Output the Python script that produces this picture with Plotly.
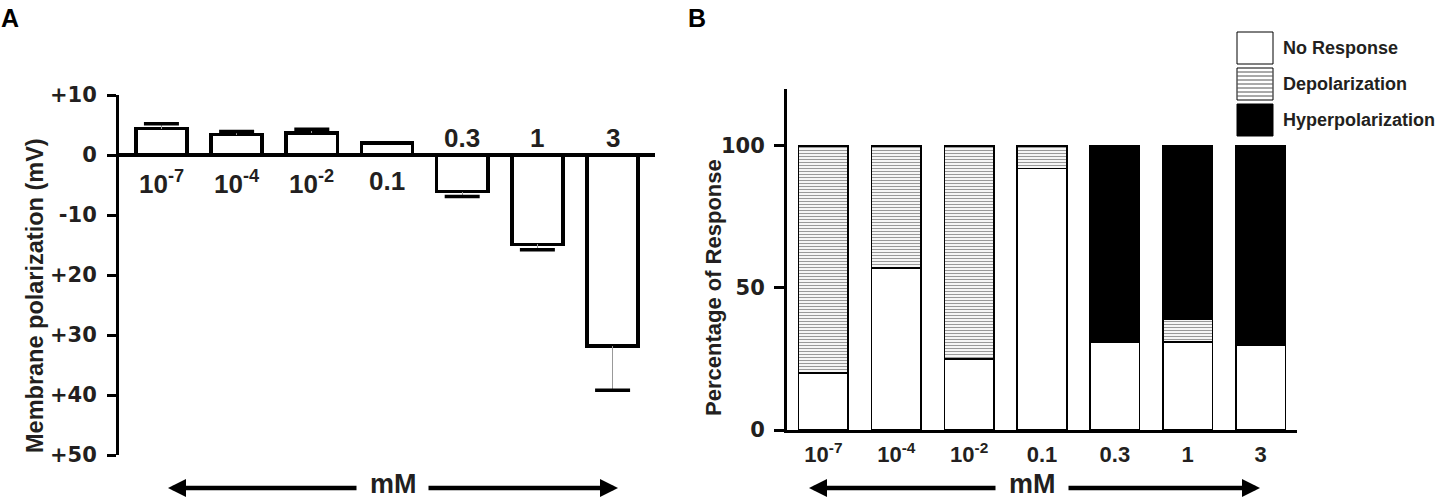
import plotly.graph_objects as go

# ---------------- data ----------------
categories = ["1e-7", "1e-4", "1e-2", "0.1", "0.3", "1", "3"]
conc_labels = ["10<sup>-7</sup>", "10<sup>-4</sup>", "10<sup>-2</sup>", "0.1", "0.3", "1", "3"]

# Panel A: membrane polarization (mV), mean and error
polarization_mean = [4.4, 3.4, 3.7, 2.0, -6.1, -14.9, -31.8]
polarization_err = [0.8, 0.5, 0.6, 0.0, 0.8, 0.9, 7.4]
a_tick_vals = [10, 0, -10, -20, -30, -40, -50]
a_tick_text = ["+10", "0", "-10", "+20", "+30", "+40", "+50"]

# Panel B: percentage of response
no_response = [20, 57, 25, 92, 31, 31, 30]
depolarization = [80, 43, 75, 8, 0, 8, 0]
hyperpolarization = [0, 0, 0, 0, 69, 61, 70]
b_tick_vals = [0, 50, 100]
legend_names = ["No Response", "Depolarization", "Hyperpolarization"]

# ---------------- layout helpers ----------------
W, H = 1442, 497
def px(x):
    return x / W
def py(y):
    return 1 - y / H

SANS = "Arial, Liberation Sans, sans-serif"
WIDE = "DejaVu Sans, sans-serif"
INK = "#231f20"

fig = go.Figure()

# ---------------- Panel A ----------------
err_plus = [e if m > 0 else 0 for m, e in zip(polarization_mean, polarization_err)]
err_minus = [e if m < 0 else 0 for m, e in zip(polarization_mean, polarization_err)]
fig.add_trace(go.Bar(
    x=categories, y=polarization_mean, xaxis="x", yaxis="y",
    marker=dict(color="white", line=dict(color="black", width=3.5)),
    error_y=dict(type="data", symmetric=False, array=err_plus, arrayminus=err_minus,
                 color="#999999", thickness=1, width=0),
    showlegend=False, hoverinfo="skip",
))
cap_y = [m + e if m > 0 else m - e for m, e in zip(polarization_mean, polarization_err)]
fig.add_trace(go.Scatter(
    x=categories, y=cap_y, xaxis="x", yaxis="y", mode="markers",
    marker=dict(symbol="line-ew", size=25, line=dict(color="black", width=3.5)),
    showlegend=False, hoverinfo="skip",
))

annotations = []
for i, (lab, m) in enumerate(zip(conc_labels, polarization_mean)):
    if m > 0:
        annotations.append(dict(x=i, y=0, xref="x", yref="y", text=lab, showarrow=False,
                                yanchor="top", yshift=-9,
                                font=dict(family=SANS, size=26, color=INK, weight="bold")))
    else:
        annotations.append(dict(x=i, y=0, xref="x", yref="y", text=lab, showarrow=False,
                                yanchor="bottom", yshift=0,
                                font=dict(family=SANS, size=26, color=INK, weight="bold")))

# ---------------- Panel B ----------------
fig.add_trace(go.Bar(
    x=categories, y=no_response, name=legend_names[0], xaxis="x2", yaxis="y2",
    marker=dict(color="white", line=dict(color="black", width=1.5)),
    showlegend=False, hoverinfo="skip",
))
fig.add_trace(go.Bar(
    x=categories, y=depolarization, name=legend_names[1], xaxis="x2", yaxis="y2",
    marker=dict(color="white", line=dict(color="black", width=1.5),
                pattern=dict(shape="-", size=3, solidity=0.4, fgcolor="#333333", bgcolor="white")),
    showlegend=False, hoverinfo="skip",
))
fig.add_trace(go.Bar(
    x=categories, y=hyperpolarization, name=legend_names[2], xaxis="x2", yaxis="y2",
    marker=dict(color="black", line=dict(color="black", width=1.5)),
    showlegend=False, hoverinfo="skip",
))

# ---------------- manual legend ----------------
shapes = []
leg_boxes = [(32, 64), (68, 100), (104, 136)]
lx0, lx1 = 1237, 1273
shapes.append(dict(type="rect", xref="paper", yref="paper", x0=px(lx0), x1=px(lx1),
                   y0=py(leg_boxes[0][1]), y1=py(leg_boxes[0][0]),
                   fillcolor="white", line=dict(color="black", width=1)))
shapes.append(dict(type="rect", xref="paper", yref="paper", x0=px(lx0), x1=px(lx1),
                   y0=py(leg_boxes[1][1]), y1=py(leg_boxes[1][0]),
                   fillcolor="white", line=dict(color="black", width=1)))
yy = leg_boxes[1][0] + 4
while yy < leg_boxes[1][1]:
    shapes.append(dict(type="line", xref="paper", yref="paper", x0=px(lx0), x1=px(lx1),
                       y0=py(yy), y1=py(yy), line=dict(color="#555555", width=1)))
    yy += 4
shapes.append(dict(type="rect", xref="paper", yref="paper", x0=px(lx0), x1=px(lx1),
                   y0=py(leg_boxes[2][1]), y1=py(leg_boxes[2][0]),
                   fillcolor="black", line=dict(color="black", width=1)))
for name, (t, b) in zip(legend_names, leg_boxes):
    annotations.append(dict(x=px(1281), y=py((t + b) / 2), xref="paper", yref="paper",
                            text=name, showarrow=False, xanchor="left", yanchor="middle",
                            font=dict(family=SANS, size=18, color=INK, weight="bold")))

# ---------------- titles, panel letters ----------------
annotations.append(dict(x=px(35), y=py(296), xref="paper", yref="paper",
                        text="Membrane polarization (mV)", textangle=-90, showarrow=False,
                        xanchor="center", yanchor="middle",
                        font=dict(family=SANS, size=23.5, color=INK, weight="bold")))
annotations.append(dict(x=px(713), y=py(288), xref="paper", yref="paper",
                        text="Percentage of Response", textangle=-90, showarrow=False,
                        xanchor="center", yanchor="middle",
                        font=dict(family=SANS, size=22, color=INK, weight="bold")))
annotations.append(dict(x=px(-1), y=py(2), xref="paper", yref="paper", text="A",
                        showarrow=False, xanchor="left", yanchor="top",
                        font=dict(family=SANS, size=25, color="black", weight="bold")))
annotations.append(dict(x=px(686), y=py(2), xref="paper", yref="paper", text="B",
                        showarrow=False, xanchor="left", yanchor="top",
                        font=dict(family=SANS, size=25, color="black", weight="bold")))

# ---------------- mM arrows ----------------
def add_arrow(left, left_end, right_start, right, y, text_x):
    annotations.append(dict(x=px(left), y=py(y), xref="paper", yref="paper", text="",
                            showarrow=True, ax=left_end - left, ay=0,
                            arrowhead=2, arrowsize=0.8, arrowwidth=4.5, arrowcolor="black"))
    annotations.append(dict(x=px(right), y=py(y), xref="paper", yref="paper", text="",
                            showarrow=True, ax=right_start - right, ay=0,
                            arrowhead=2, arrowsize=0.8, arrowwidth=4.5, arrowcolor="black"))
    annotations.append(dict(x=px(text_x), y=py(484), xref="paper", yref="paper", text="mM",
                            showarrow=False, xanchor="center", yanchor="middle",
                            font=dict(family=SANS, size=27, color=INK, weight="bold")))

add_arrow(168, 358, 427, 618, 488, 393)
add_arrow(809, 997, 1067, 1260, 488, 1032)

fig.update_layout(
    width=W, height=H, autosize=False,
    margin=dict(l=0, r=0, t=0, b=0),
    paper_bgcolor="white", plot_bgcolor="white",
    barmode="stack",
    showlegend=False,
    xaxis=dict(domain=[px(119), px(655)], visible=False, type="category",
               categoryorder="array", categoryarray=categories),
    yaxis=dict(domain=[py(455), py(95)], range=[-50, 10], automargin=False,
               tickvals=a_tick_vals, ticktext=a_tick_text,
               showline=True, linecolor="black", linewidth=3,
               ticks="outside", ticklen=9, tickwidth=3, tickcolor="black",
               ticklabelstandoff=6,
               tickfont=dict(family=WIDE, size=21, color=INK, weight="bold"),
               showgrid=False, zeroline=True, zerolinecolor="black", zerolinewidth=3.5),
    xaxis2=dict(domain=[px(787), px(1297)], type="category", anchor="y2",
                categoryorder="array", categoryarray=categories,
                tickvals=categories, ticktext=conc_labels, automargin=False,
                showline=True, linecolor="black", linewidth=3, ticks="",
                ticklabelstandoff=3,
                tickfont=dict(family=SANS, size=22, color=INK, weight="bold"),
                showgrid=False, zeroline=False),
    yaxis2=dict(domain=[py(430), py(89)], range=[0, 120], anchor="x2", automargin=False,
                tickvals=b_tick_vals,
                showline=True, linecolor="black", linewidth=3,
                ticks="outside", ticklen=10, tickwidth=3, tickcolor="black",
                ticklabelstandoff=5,
                tickfont=dict(family=WIDE, size=21, color=INK, weight="bold"),
                showgrid=False, zeroline=False),
    bargap=0.32,
    shapes=shapes,
    annotations=annotations,
)

fig.write_html("out.html", config={"displayModeBar": False},
               post_script="document.body.style.margin='0px';document.body.style.overflow='hidden';")
